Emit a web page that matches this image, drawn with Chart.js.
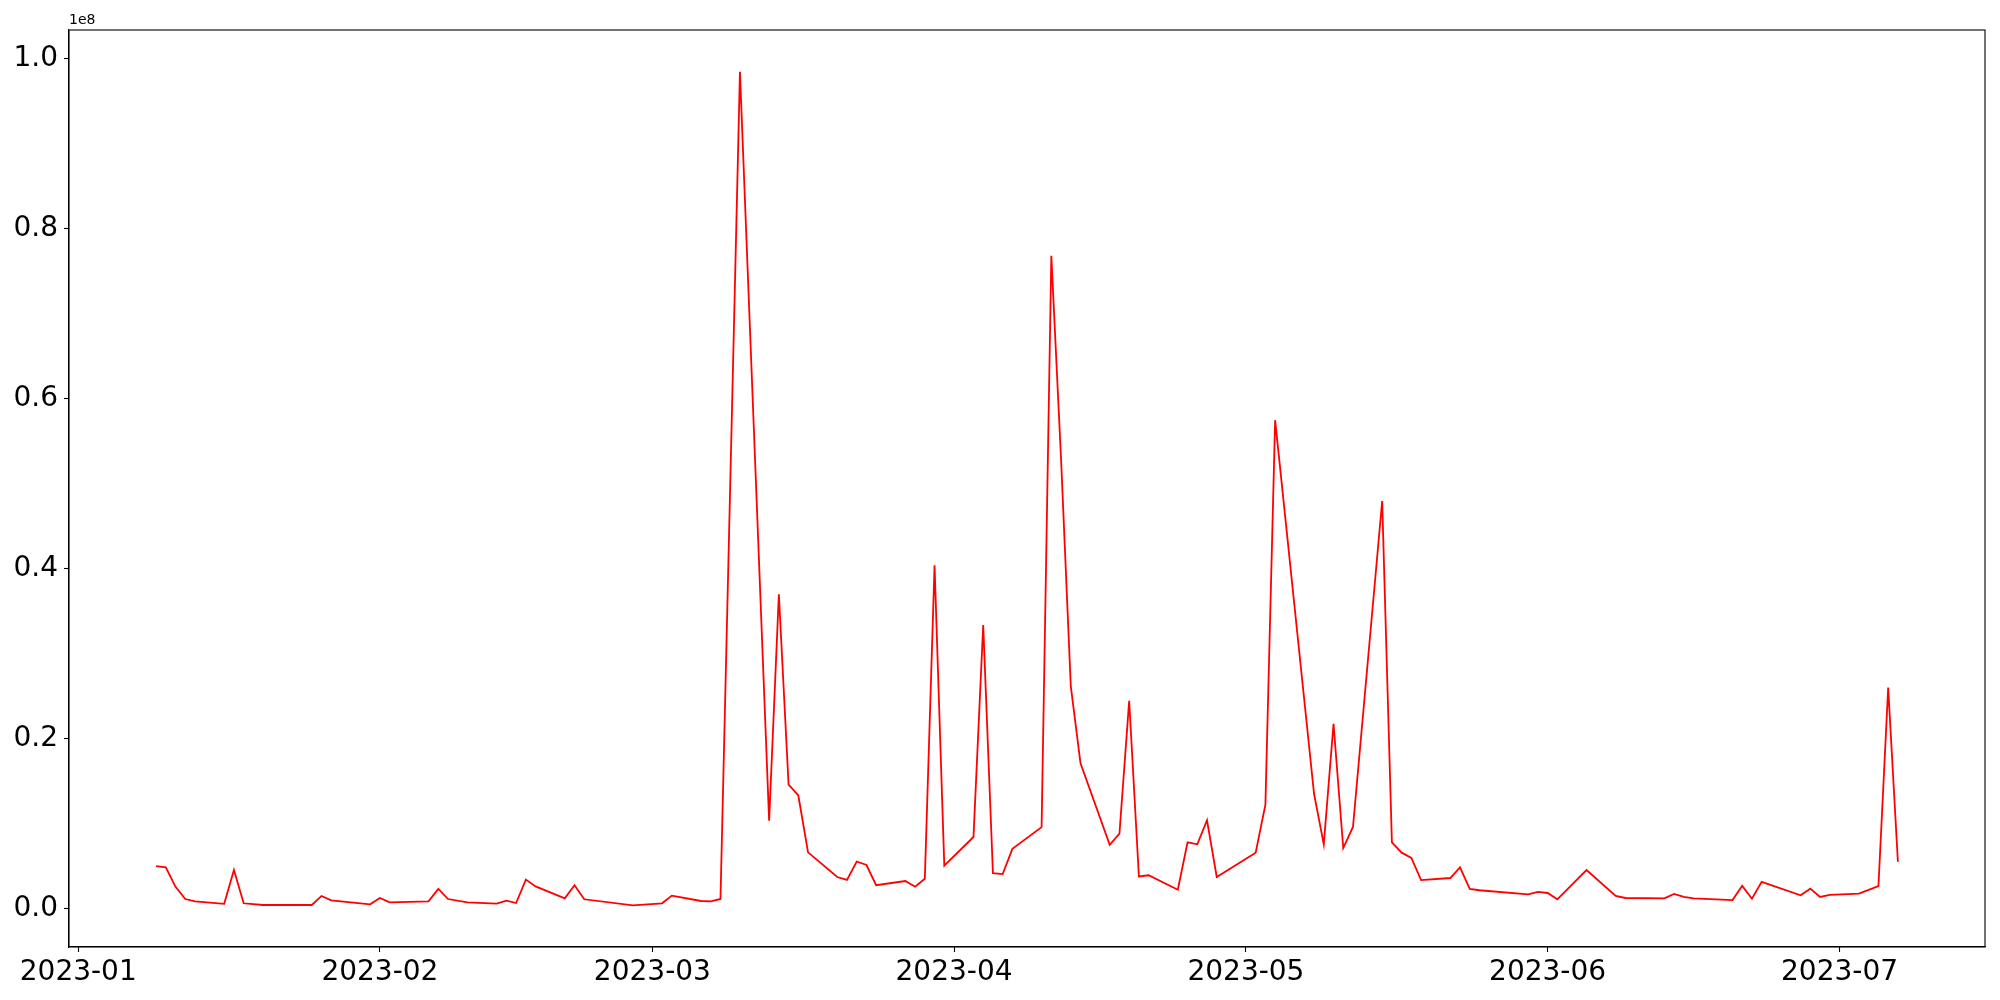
<!DOCTYPE html>
<html>
<head>
<meta charset="utf-8">
<script src="https://cdn.jsdelivr.net/npm/chart.js@4.4.0/dist/chart.umd.min.js"></script>
<style>html,body{margin:0;padding:0;background:#fff}</style>
</head>
<body>
<canvas id="chart" width="2000" height="1000"></canvas>
<script>
// trading days and values (raw units, axis shows them in 1e8)
const dates = [
  '2023-01-09','2023-01-10','2023-01-11','2023-01-12','2023-01-13','2023-01-16','2023-01-17','2023-01-18','2023-01-20','2023-01-25',
  '2023-01-26','2023-01-27','2023-01-31','2023-02-01','2023-02-02','2023-02-06','2023-02-07','2023-02-08','2023-02-10','2023-02-13',
  '2023-02-14','2023-02-15','2023-02-16','2023-02-17','2023-02-20','2023-02-21','2023-02-22','2023-02-27','2023-03-02','2023-03-03',
  '2023-03-06','2023-03-07','2023-03-08','2023-03-10','2023-03-13','2023-03-14','2023-03-15','2023-03-16','2023-03-17','2023-03-20',
  '2023-03-21','2023-03-22','2023-03-23','2023-03-24','2023-03-27','2023-03-28','2023-03-29','2023-03-30','2023-03-31','2023-04-03',
  '2023-04-04','2023-04-05','2023-04-06','2023-04-07','2023-04-10','2023-04-11','2023-04-12','2023-04-13','2023-04-14','2023-04-17',
  '2023-04-18','2023-04-19','2023-04-20','2023-04-21','2023-04-24','2023-04-25','2023-04-26','2023-04-27','2023-04-28','2023-05-02',
  '2023-05-03','2023-05-04','2023-05-08','2023-05-09','2023-05-10','2023-05-11','2023-05-12','2023-05-15','2023-05-16','2023-05-17',
  '2023-05-18','2023-05-19','2023-05-22','2023-05-23','2023-05-24','2023-05-25','2023-05-30','2023-05-31','2023-06-01','2023-06-02',
  '2023-06-05','2023-06-08','2023-06-09','2023-06-13','2023-06-14','2023-06-15','2023-06-16','2023-06-20','2023-06-21','2023-06-22',
  '2023-06-23','2023-06-27','2023-06-28','2023-06-29','2023-06-30','2023-07-03','2023-07-05','2023-07-06','2023-07-07'
];
const values = [
  5.05e6, 4.90e6, 2.60e6, 1.17e6, 0.90e6, 0.60e6, 4.58e6, 0.67e6, 0.47e6, 0.47e6,
  1.53e6, 1.02e6, 0.55e6, 1.29e6, 0.78e6, 0.90e6, 2.35e6, 1.17e6, 0.78e6, 0.63e6,
  0.98e6, 0.70e6, 3.45e6, 2.65e6, 1.25e6, 2.78e6, 1.14e6, 0.43e6, 0.67e6, 1.57e6,
  0.94e6, 0.90e6, 1.18e6, 98.43e6, 10.38e6, 37.0e6, 14.62e6, 13.34e6, 6.66e6, 3.76e6,
  3.42e6, 5.58e6, 5.17e6, 2.80e6, 3.29e6, 2.62e6, 3.56e6, 40.4e6, 5.10e6, 8.46e6,
  33.38e6, 4.20e6, 4.10e6, 7.07e6, 9.62e6, 76.8e6, 52.9e6, 26.2e6, 17.12e6, 7.55e6,
  8.85e6, 24.47e6, 3.82e6, 3.96e6, 2.26e6, 7.84e6, 7.60e6, 10.43e6, 3.76e6, 6.62e6,
  12.26e6, 57.46e6, 13.52e6, 7.59e6, 21.78e6, 7.16e6, 9.64e6, 47.96e6, 7.82e6, 6.62e6,
  6.01e6, 3.40e6, 3.64e6, 4.90e6, 2.35e6, 2.20e6, 1.72e6, 2.00e6, 1.88e6, 1.14e6,
  4.58e6, 1.53e6, 1.29e6, 1.25e6, 1.76e6, 1.41e6, 1.25e6, 1.04e6, 2.72e6, 1.21e6,
  3.19e6, 1.61e6, 2.39e6, 1.41e6, 1.65e6, 1.80e6, 2.70e6, 26.02e6, 5.56e6
];
const monthTicks = ['2023-01-01','2023-02-01','2023-03-01','2023-04-01','2023-05-01','2023-06-01','2023-07-01'];
const monthLabels = ['2023-01','2023-02','2023-03','2023-04','2023-05','2023-06','2023-07'];
const yTicks = [0, 0.2e8, 0.4e8, 0.6e8, 0.8e8, 1.0e8];

// day number counted from 2023-01-01
const dayOf = s => {
  const [y, m, d] = s.split('-').map(Number);
  return (Date.UTC(y, m - 1, d) - Date.UTC(2023, 0, 1)) / 864e5;
};
const monthDays = monthTicks.map(dayOf);
const xs = dates.map(dayOf);

// matplotlib-like 5% margins
const pad = (lo, hi) => [lo - (hi - lo) * 0.05, hi + (hi - lo) * 0.05];
const [xMin, xMax] = pad(Math.min(...xs), Math.max(...xs));
const [yMin, yMax] = pad(Math.min(...values), Math.max(...values));

const frame = {
  id: 'frame',
  afterDraw(chart) {
    const { ctx, chartArea: a } = chart;
    ctx.save();
    ctx.strokeStyle = '#000';
    ctx.lineWidth = 1.1;
    ctx.strokeRect(a.left, a.top, a.right - a.left, a.bottom - a.top);
    ctx.fillStyle = '#000';
    ctx.font = '14px "DejaVu Sans"';
    ctx.textBaseline = 'bottom';
    ctx.fillText('1e8', a.left, a.top - 3);
    ctx.restore();
  }
};

const tickFont = { family: 'DejaVu Sans', size: 28 };

new Chart(document.getElementById('chart'), {
  type: 'line',
  data: {
    datasets: [{
      data: xs.map((x, i) => ({ x, y: values[i] })),
      borderColor: '#ff0000',
      borderWidth: 1.8,
      pointRadius: 0,
      tension: 0,
      fill: false
    }]
  },
  options: {
    responsive: false,
    animation: false,
    devicePixelRatio: 1,
    layout: { padding: { top: 30, right: 15, left: 0, bottom: 0 } },
    plugins: { legend: { display: false }, tooltip: { enabled: false } },
    scales: {
      x: {
        type: 'linear', min: xMin, max: xMax,
        afterBuildTicks: s => { s.ticks = monthDays.map(v => ({ value: v })); },
        afterFit: s => { s.height = 53; },
        ticks: {
          font: tickFont, color: '#000', padding: 4, maxRotation: 0, autoSkip: false,
          callback: v => monthLabels[monthDays.indexOf(v)]
        },
        grid: { drawOnChartArea: false, tickLength: 5, tickColor: '#000', tickWidth: 1.1 },
        border: { color: '#000', width: 1.1 }
      },
      y: {
        type: 'linear', min: yMin, max: yMax,
        afterBuildTicks: s => { s.ticks = yTicks.map(v => ({ value: v })); },
        afterFit: s => { s.width = 69; },
        ticks: {
          font: tickFont, color: '#000', padding: 6,
          callback: v => (v / 1e8).toFixed(1)
        },
        grid: { drawOnChartArea: false, tickLength: 5, tickColor: '#000', tickWidth: 1.1 },
        border: { color: '#000', width: 1.1 }
      }
    }
  },
  plugins: [frame]
});
</script>
</body>
</html>
